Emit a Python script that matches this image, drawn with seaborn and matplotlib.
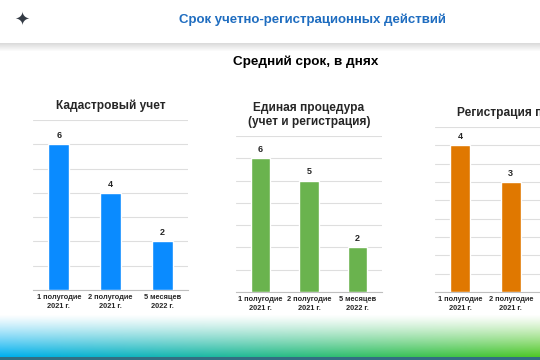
import numpy as np
import pandas as pd
import matplotlib
matplotlib.use("Agg")
import matplotlib.pyplot as plt
import seaborn as sns

# data
periods = ["1 полугодие\n2021 г.", "2 полугодие\n2021 г.", "5 месяцев\n2022 г."]
cadastre_days = [6, 4, 2]
single_proc_days = [6, 5, 2]
registration_days = [4, 3, 2]  # third bar is cut off in the picture

panel_titles = ["Кадастровый учет", "Единая процедура\n(учет и регистрация)", "Регистрация прав"]
main_title = "Срок учетно-регистрационных действий"
sub_title = "Средний срок, в днях"

sns.set_style("white")
plt.rcParams["font.family"] = ["Liberation Sans", "DejaVu Sans"]

fig = plt.figure(figsize=(5.4, 3.6), dpi=100)

# ---- slide background: header shadow + bottom gradient ----
H, W = 360, 540
bg = np.ones((H, W, 3))
rows = np.arange(H)
shadow = np.clip((rows - 43) / 8.0, 0, 1)
band = (rows >= 43) & (rows < 52)
bg[band] = (0.86 + 0.14 * shadow[band])[:, None, None]
blue = np.array([0, 176, 240]) / 255
green = np.array([80, 200, 40]) / 255
xs = np.linspace(0, 1, W)[:, None]
col = blue * (1 - xs) + green * xs
for r in range(314, 357):
    a = ((r - 314) / 42.0) ** 1.2
    bg[r] = (1 - a) * bg[r] + a * col
bg[357:] = np.array([50, 110, 130]) / 255
bgax = fig.add_axes([0, 0, 1, 1], zorder=-1)
bgax.imshow(bg, aspect="auto", extent=[0, 1, 0, 1])
bgax.axis("off")

# logo placeholder
fig.text(22 / 540, 1 - 21 / 360, "✦", color="#333a44", fontsize=13,
         ha="center", va="center", family="DejaVu Sans")

fig.text(312 / 540, 1 - 20 / 360, main_title, color="#1f6dc0", fontsize=9.5,
         fontweight="bold", ha="center", va="center")
fig.text(306 / 540, 1 - 62 / 360, sub_title, color="black", fontsize=9.7,
         fontweight="bold", ha="center", va="center")

panels = [
    ([33 / 540, 1 - 290 / 360, 155 / 540, 170 / 360], cadastre_days, "#0a8bff", 7, 1, 106),
    ([236 / 540, 1 - 292 / 360, 146 / 540, 156 / 360], single_proc_days, "#6ab34e", 7, 1, 115),
    ([435 / 540, 1 - 292 / 360, 151.5 / 540, 165 / 360], registration_days, "#e07800", 4.5, 0.5, 113),
]

for (rect, vals, color, ymax, step, title_y), title in zip(panels, panel_titles):
    ax = fig.add_axes(rect)
    df = pd.DataFrame({"period": periods, "days": vals})
    sns.barplot(data=df, x="period", y="days", color=color, width=0.4,
                saturation=1, ax=ax, zorder=3)
    ax.set_ylim(0, ymax)
    ax.set_xlim(-0.5, 2.5)
    ax.set_yticks(np.arange(0, ymax + 0.01, step))
    ax.set_yticklabels([])
    ax.tick_params(axis="y", length=0)
    ax.yaxis.grid(True, color="#dedede", linewidth=0.8)
    ax.set_xlabel("")
    ax.set_ylabel("")
    for s in ["top", "right", "left"]:
        ax.spines[s].set_visible(False)
    ax.spines["bottom"].set_color("#bfbfbf")
    ax.spines["bottom"].set_linewidth(0.8)
    ax.set_xticks([-0.5, 0.5, 1.5, 2.5], minor=True)
    ax.tick_params(axis="x", which="minor", length=3, color="#bfbfbf")
    ax.tick_params(axis="x", which="major", length=0, pad=3)
    for lab in ax.get_xticklabels():
        lab.set_fontsize(5.3)
        lab.set_fontweight("bold")
        lab.set_linespacing(1.35)
    ax.bar_label(ax.containers[0], fontsize=6.5, fontweight="bold", padding=3)
    ax.patch.set_alpha(0)
    cx = rect[0] + rect[2] / 2
    fig.text(cx, 1 - title_y / 360, title, fontsize=8.6, fontweight="bold",
             ha="center", va="center", linespacing=1.25)

fig.savefig("out.png", dpi=100)
